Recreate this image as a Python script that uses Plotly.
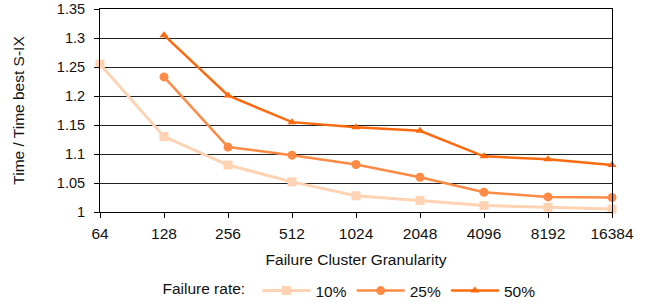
import plotly.graph_objects as go

categories = ["64", "128", "256", "512", "1024", "2048", "4096", "8192", "16384"]
rate10 = [1.255, 1.130, 1.081, 1.052, 1.028, 1.020, 1.011, 1.008, 1.005]
rate25 = [None, 1.233, 1.112, 1.098, 1.082, 1.060, 1.034, 1.026, 1.025]
rate50 = [None, 1.305, 1.201, 1.155, 1.146, 1.140, 1.096, 1.091, 1.081]
y_ticks = [1, 1.05, 1.1, 1.15, 1.2, 1.25, 1.3, 1.35]
y_labels = ["1", "1.05", "1.1", "1.15", "1.2", "1.25", "1.3", "1.35"]

font = "Liberation Sans, Arial, sans-serif"
FS = 15.5
series = [
    ("10%", rate10, "#FDD3B4", "square", 9, 3),
    ("25%", rate25, "#FD8A45", "circle", 9, 2.5),
    ("50%", rate50, "#FB6A0E", "triangle-up", 8, 2.5),
]

fig = go.Figure()
for name, vals, color, sym, size, w in series:
    fig.add_trace(go.Scatter(
        x=list(range(len(categories))), y=vals, name=name, mode="lines+markers",
        line=dict(color=color, width=w), marker=dict(symbol=sym, size=size, color=color),
        cliponaxis=False,
    ))

fig.update_layout(
    width=651, height=305,
    margin=dict(l=100, r=39, t=9, b=93, autoexpand=False),
    plot_bgcolor="white", paper_bgcolor="white",
    font=dict(family=font, size=FS, color="#111"),
    showlegend=True,
    legend=dict(
        orientation="h", x=0.118, xanchor="left",
        yref="container", y=(305 - 291) / 305, yanchor="middle",
        title=dict(text="Failure rate: ", font=dict(size=FS), side="left"),
        font=dict(size=FS), itemwidth=48, bgcolor="rgba(0,0,0,0)",
    ),
    xaxis=dict(
        range=[0, 8], tickmode="array", tickvals=list(range(len(categories))), ticktext=categories,
        showgrid=False, showline=True, linecolor="black", linewidth=1, mirror=True,
        ticks="outside", ticklen=5, tickcolor="black", zeroline=False, automargin=False,
        title=dict(text="Failure Cluster Granularity", font=dict(size=FS), standoff=13),
        tickfont=dict(size=FS), ticklabelstandoff=2, ticklabeloverflow="allow",
    ),
    yaxis=dict(
        range=[1, 1.3501], tickmode="array", tickvals=y_ticks, ticktext=y_labels,
        showgrid=True, gridcolor="#222", gridwidth=1,
        showline=True, linecolor="black", linewidth=1, mirror=True,
        ticks="outside", ticklen=5, tickcolor="black", zeroline=False, automargin=False,
        title=dict(text="Time / Time best S-IX", font=dict(size=FS), standoff=28),
        tickfont=dict(size=14.5), ticklabelstandoff=6, ticklabeloverflow="allow",
    ),
)

fig.write_html(
    "out.html",
    config={"displayModeBar": False},
    post_script="document.body.style.margin='0';document.body.style.padding='0';",
)
